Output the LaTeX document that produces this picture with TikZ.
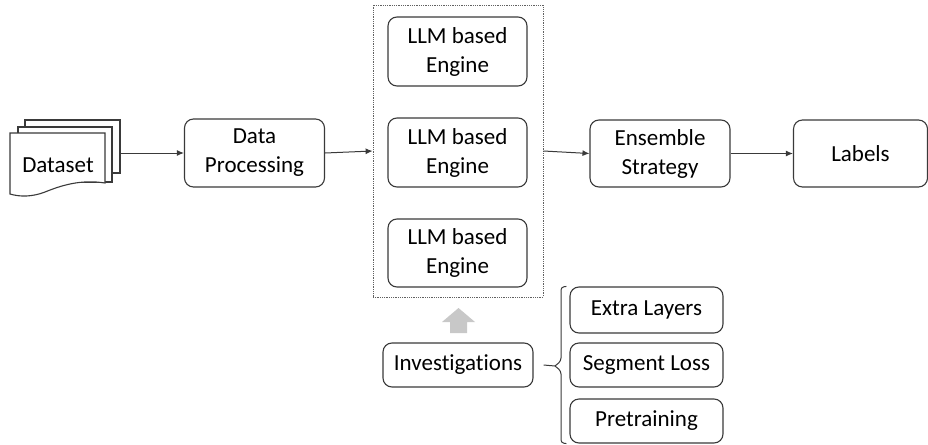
\documentclass[tikz,border=0pt]{standalone}
\usepackage{fontspec}
\setmainfont{Carlito}[Ligatures={NoCommon}]
\usetikzlibrary{arrows.meta}
\definecolor{edge}{HTML}{3A3A3A}
\definecolor{blockgray}{HTML}{C8C8C8}
\tikzset{
  box/.style={draw=edge, line width=1.1pt, rounded corners=9pt, fill=white, align=center,
    inner sep=0pt, font=\fontsize{23}{29}\selectfont},
  flow/.style={draw=edge, line width=1pt, -{Latex[length=7pt,width=6pt]}},
  page/.style={draw=edge, line width=1.1pt, fill=white},
}
\begin{document}
\begin{tikzpicture}[x=1pt,y=-1pt]
\useasboundingbox (0,0) rectangle (928,444);
% Dataset stack
\draw[page] (25,120) rectangle (120,173);
\draw[page] (18,127) rectangle (112,182);
\draw[page] (10,133) -- (105,133) -- (105,183) .. controls (80,179) and (60,186) .. (45,192) .. controls (32,197) and (20,197) .. (10,194) -- cycle;
\node[font=\fontsize{23}{29}\selectfont] (ds) at (58,165) {Dataset};
\coordinate (dsout) at (120,153);
% Data processing
\node[box, minimum width=140pt, minimum height=68pt] (dp) at (254.5,153) {Data\\Processing};
% container
\node[draw=edge!80, densely dotted, line width=0.8pt, minimum width=170pt, minimum height=292pt, inner sep=0pt] (cont) at (458,151) {};
\node[box, minimum width=139pt, minimum height=69pt] (e1) at (457.5,51.5) {LLM based\\Engine};
\node[box, minimum width=139pt, minimum height=69pt] (e2) at (457.5,152.5) {LLM based\\Engine};
\node[box, minimum width=139pt, minimum height=68pt] (e3) at (457.5,253) {LLM based\\Engine};
% ensemble and labels
\node[box, minimum width=140pt, minimum height=67pt] (ens) at (660,153.5) {Ensemble\\Strategy};
\node[box, minimum width=134pt, minimum height=67pt] (lab) at (860.5,153.5) {Labels};
% investigations
\node[box, minimum width=150pt, minimum height=44pt] (inv) at (458,365) {Investigations};
\node[box, minimum width=153pt, minimum height=46pt] (x1) at (646.5,310) {Extra Layers};
\node[box, minimum width=153pt, minimum height=44pt] (x2) at (646.5,365) {Segment Loss};
\node[box, minimum width=153pt, minimum height=44pt] (x3) at (646.5,421) {Pretraining};
% connectors
\draw[flow] (dsout) -- (dp.west);
\draw[flow] (dp.east) -- (cont.west);
\draw[flow] (cont.east) -- (ens.west);
\draw[flow] (ens.east) -- (lab.west);
% gray block arrow
\coordinate (bat) at (458.5,308);
\fill[blockgray] (450,333) -- (450,322) -- (442,322) -- (bat) -- (475,322) -- (467,322) -- (467,333) -- cycle;
% brace
\coordinate (bt) at (555,366);
\draw[edge, line width=1pt] ([xshift=10pt]inv.east) -- (bt);
\draw[edge, line width=1pt, rounded corners=3pt] ([xshift=-3pt]x1.north west) -- (561,287) -- (561,361) -- (bt);
\draw[edge, line width=1pt, rounded corners=3pt] ([xshift=-3pt]x3.south west) -- (561,443) -- (561,371) -- (bt);
\end{tikzpicture}
\end{document}
